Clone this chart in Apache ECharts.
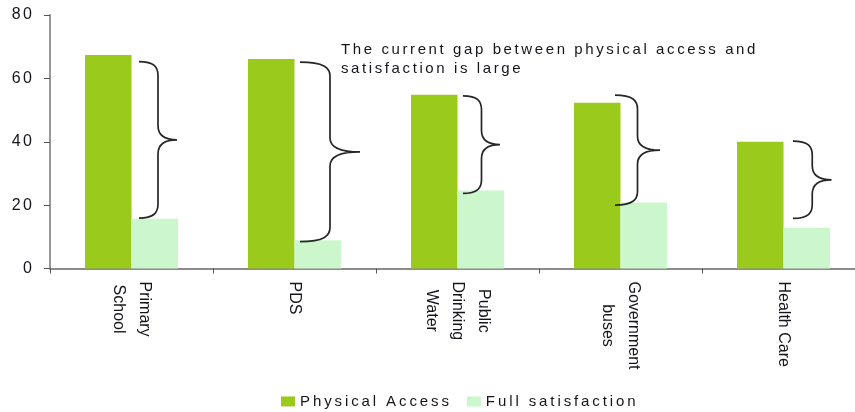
<!DOCTYPE html>
<html>
<head>
<meta charset="utf-8">
<script src="https://cdn.jsdelivr.net/npm/echarts@6/dist/echarts.min.js"></script>
<style>
  html, body { margin: 0; padding: 0; background: #fff; }
  #chart { width: 855px; height: 412px; }
</style>
</head>
<body>
<div id="chart"></div>
<script>
// Tracked (letter-spaced) text: a quoted pseudo family "ls N" in the font list
// sets the canvas letterSpacing to N px for that text, both when drawing and measuring.
(function () {
  const proto = CanvasRenderingContext2D.prototype;
  function applyTracking(ctx) {
    const m = /ls ([\d.]+)/.exec(ctx.font || '');
    ctx.letterSpacing = m ? m[1] + 'px' : '0px';
  }
  ['fillText', 'strokeText', 'measureText'].forEach(function (fn) {
    const orig = proto[fn];
    proto[fn] = function () {
      applyTracking(this);
      return orig.apply(this, arguments);
    };
  });
})();

// ---- data ----
const categories = ['Primary\nSchool', 'PDS', 'Public\nDrinking\nWater', 'Government\nbuses', 'Health Care'];
const physicalAccess = [67.4, 66.1, 54.8, 52.3, 40.0];
const fullSatisfaction = [15.7, 8.9, 24.6, 20.8, 12.8];
// ends of each gap brace (value units)
const braceLow = [15.9, 8.5, 23.7, 20.0, 15.8];
const braceHigh = [65.3, 65.1, 54.5, 54.7, 40.2];
const yTicks = [0, 20, 40, 60, 80];
const seriesNames = ['Physical Access', 'Full satisfaction'];
const note = 'The current gap between physical access and\nsatisfaction is large';

// ---- styling ----
const FONT = '"Liberation Sans", Arial, sans-serif';
const tracked = n => '"Liberation Sans", Arial, "ls ' + n + '"';
const TEXT = '#15151c';
const GREEN = '#9aca1b';
const LIGHT = '#ccf7cc';
// brace placement per category: start offset and tip offset from category centre (px)
const braceStart = [7.5, 5.5, 5.5, -5.5, 9.5];
const braceTip = [45.5, 65.5, 42.5, 39.5, 48];

const braceData = categories.map((c, i) => [i, braceLow[i], braceHigh[i]]);

function renderBrace(params, api) {
  const i = api.value(0);
  const lo = api.coord([i, api.value(1)]);
  const hi = api.coord([i, api.value(2)]);
  const xl = lo[0] + braceStart[i];
  const xt = lo[0] + braceTip[i];
  const xm = (xl + xt) / 2;
  const top = hi[1], bot = lo[1];
  const mid = (top + bot) / 2;
  const r = Math.min(14, (bot - top) / 5);
  const path =
    'M' + xl + ',' + top +
    ' C' + (xl + (xm - xl) * 0.8) + ',' + top + ' ' + xm + ',' + (top + r * 0.4) + ' ' + xm + ',' + (top + r) +
    ' L' + xm + ',' + (mid - r) +
    ' Q' + xm + ',' + mid + ' ' + xt + ',' + mid +
    ' Q' + xm + ',' + mid + ' ' + xm + ',' + (mid + r) +
    ' L' + xm + ',' + (bot - r) +
    ' C' + xm + ',' + (bot - r * 0.4) + ' ' + (xl + (xm - xl) * 0.8) + ',' + bot + ' ' + xl + ',' + bot;
  return {
    type: 'path',
    shape: { pathData: path },
    style: { fill: null, stroke: '#262626', lineWidth: 1.7 }
  };
}

const chart = echarts.init(document.getElementById('chart'), null, { renderer: 'canvas' });

chart.setOption({
  animation: false,
  backgroundColor: '#fff',
  grid: {
    left: 50, right: -10, top: 15, bottom: 143.5,
    outerBoundsMode: 'none', containLabel: false
  },
  legend: {
    data: seriesNames,
    left: 281, top: 392.5, padding: 0,
    icon: 'rect', itemWidth: 14, itemHeight: 10, itemGap: 15,
    textStyle: { fontSize: 15, fontFamily: tracked(2.9), color: TEXT, lineHeight: 16 }
  },
  xAxis: {
    type: 'category',
    data: categories,
    axisLine: { lineStyle: { color: '#8c8c8c', width: 1.8 } },
    axisTick: { show: true, length: 5, lineStyle: { color: '#555', width: 1 } },
    axisLabel: {
      rotate: -90, margin: 13, interval: 0,
      formatter: v => v.split('\n').map(s => '{c|' + s + '}').join('\n'),
      rich: { c: { align: 'center', fontSize: 16, lineHeight: 26, fontFamily: FONT, color: TEXT } }
    }
  },
  yAxis: {
    type: 'value',
    min: yTicks[0], max: yTicks[yTicks.length - 1], interval: yTicks[1] - yTicks[0],
    axisLine: { show: true, lineStyle: { color: '#8c8c8c', width: 1.8 } },
    axisTick: { show: true, length: 6, lineStyle: { color: '#555', width: 1 } },
    splitLine: { show: false },
    axisLabel: { fontSize: 16, fontFamily: tracked(2.5), color: TEXT, margin: 15.5 }
  },
  series: [
    {
      name: seriesNames[0], type: 'bar', data: physicalAccess,
      barWidth: 46.5, barGap: '0%', itemStyle: { color: GREEN }
    },
    {
      name: seriesNames[1], type: 'bar', data: fullSatisfaction,
      barWidth: 46.5, barGap: '0%', itemStyle: { color: LIGHT }
    },
    {
      name: 'gap', type: 'custom', data: braceData, silent: true,
      encode: { x: 0, y: [1, 2] }, renderItem: renderBrace, z: 5
    }
  ],
  graphic: [
    {
      type: 'text', x: 341, y: 40, silent: true,
      style: { text: note, fill: TEXT, fontSize: 15, fontFamily: tracked(2.6), lineHeight: 19.5 }
    }
  ]
});
</script>
</body>
</html>
